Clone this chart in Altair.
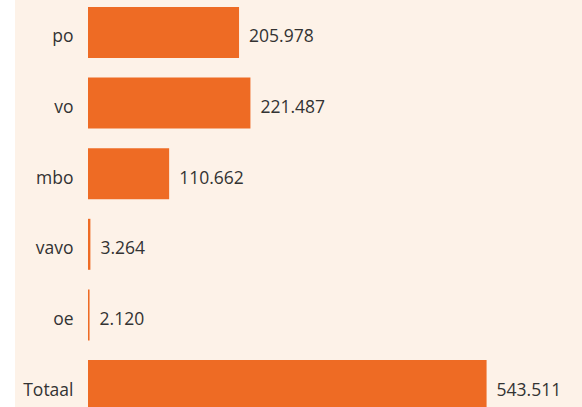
import altair as alt
import pandas as pd

categories = ["po", "vo", "mbo", "vavo", "oe", "Totaal"]
values = [205978, 221487, 110662, 3264, 2120, 543511]
labels = [f"{v:,}".replace(",", ".") for v in values]

df = pd.DataFrame({"cat": categories, "val": values, "label": labels})

W, H = 440, 400
BAR = "#EE6B24"
BG = "#FDF2E8"
TXT = "#333333"
FONT = "Open Sans"

y_enc = alt.Y("cat:N", sort=categories, title=None,
              scale=alt.Scale(range=[0, 404], paddingInner=0.278, paddingOuter=0),
              axis=alt.Axis(domain=False, ticks=False, labelPadding=15,
                            labelFontSize=17.5, labelColor=TXT, labelFont=FONT,
                            labelOffset=5, grid=False))
x_enc = alt.X("val:Q", scale=alt.Scale(domain=[0, 600000], nice=False), axis=None)

strip = alt.Chart(pd.DataFrame({"a": [0]})).mark_rect(color="white").encode(
    x=alt.value(-88), x2=alt.value(-73), y=alt.value(-7), y2=alt.value(H)
)

bars = alt.Chart(df).mark_bar(color=BAR).encode(x=x_enc, y=y_enc)
text = alt.Chart(df).mark_text(align="left", baseline="middle", dx=10, dy=5,
                               fontSize=17.5, font=FONT, color=TXT).encode(
    x=x_enc, y=y_enc, text="label:N")

chart = alt.layer(strip, bars, text).properties(
    width=W, height=H,
    autosize=alt.AutoSizeParams(type="none"),
    padding={"left": 88, "top": 7, "right": 54, "bottom": 0},
    background=BG,
).configure_view(stroke=None)

chart.save("out.html", embed_options={"renderer": "svg", "actions": False})
